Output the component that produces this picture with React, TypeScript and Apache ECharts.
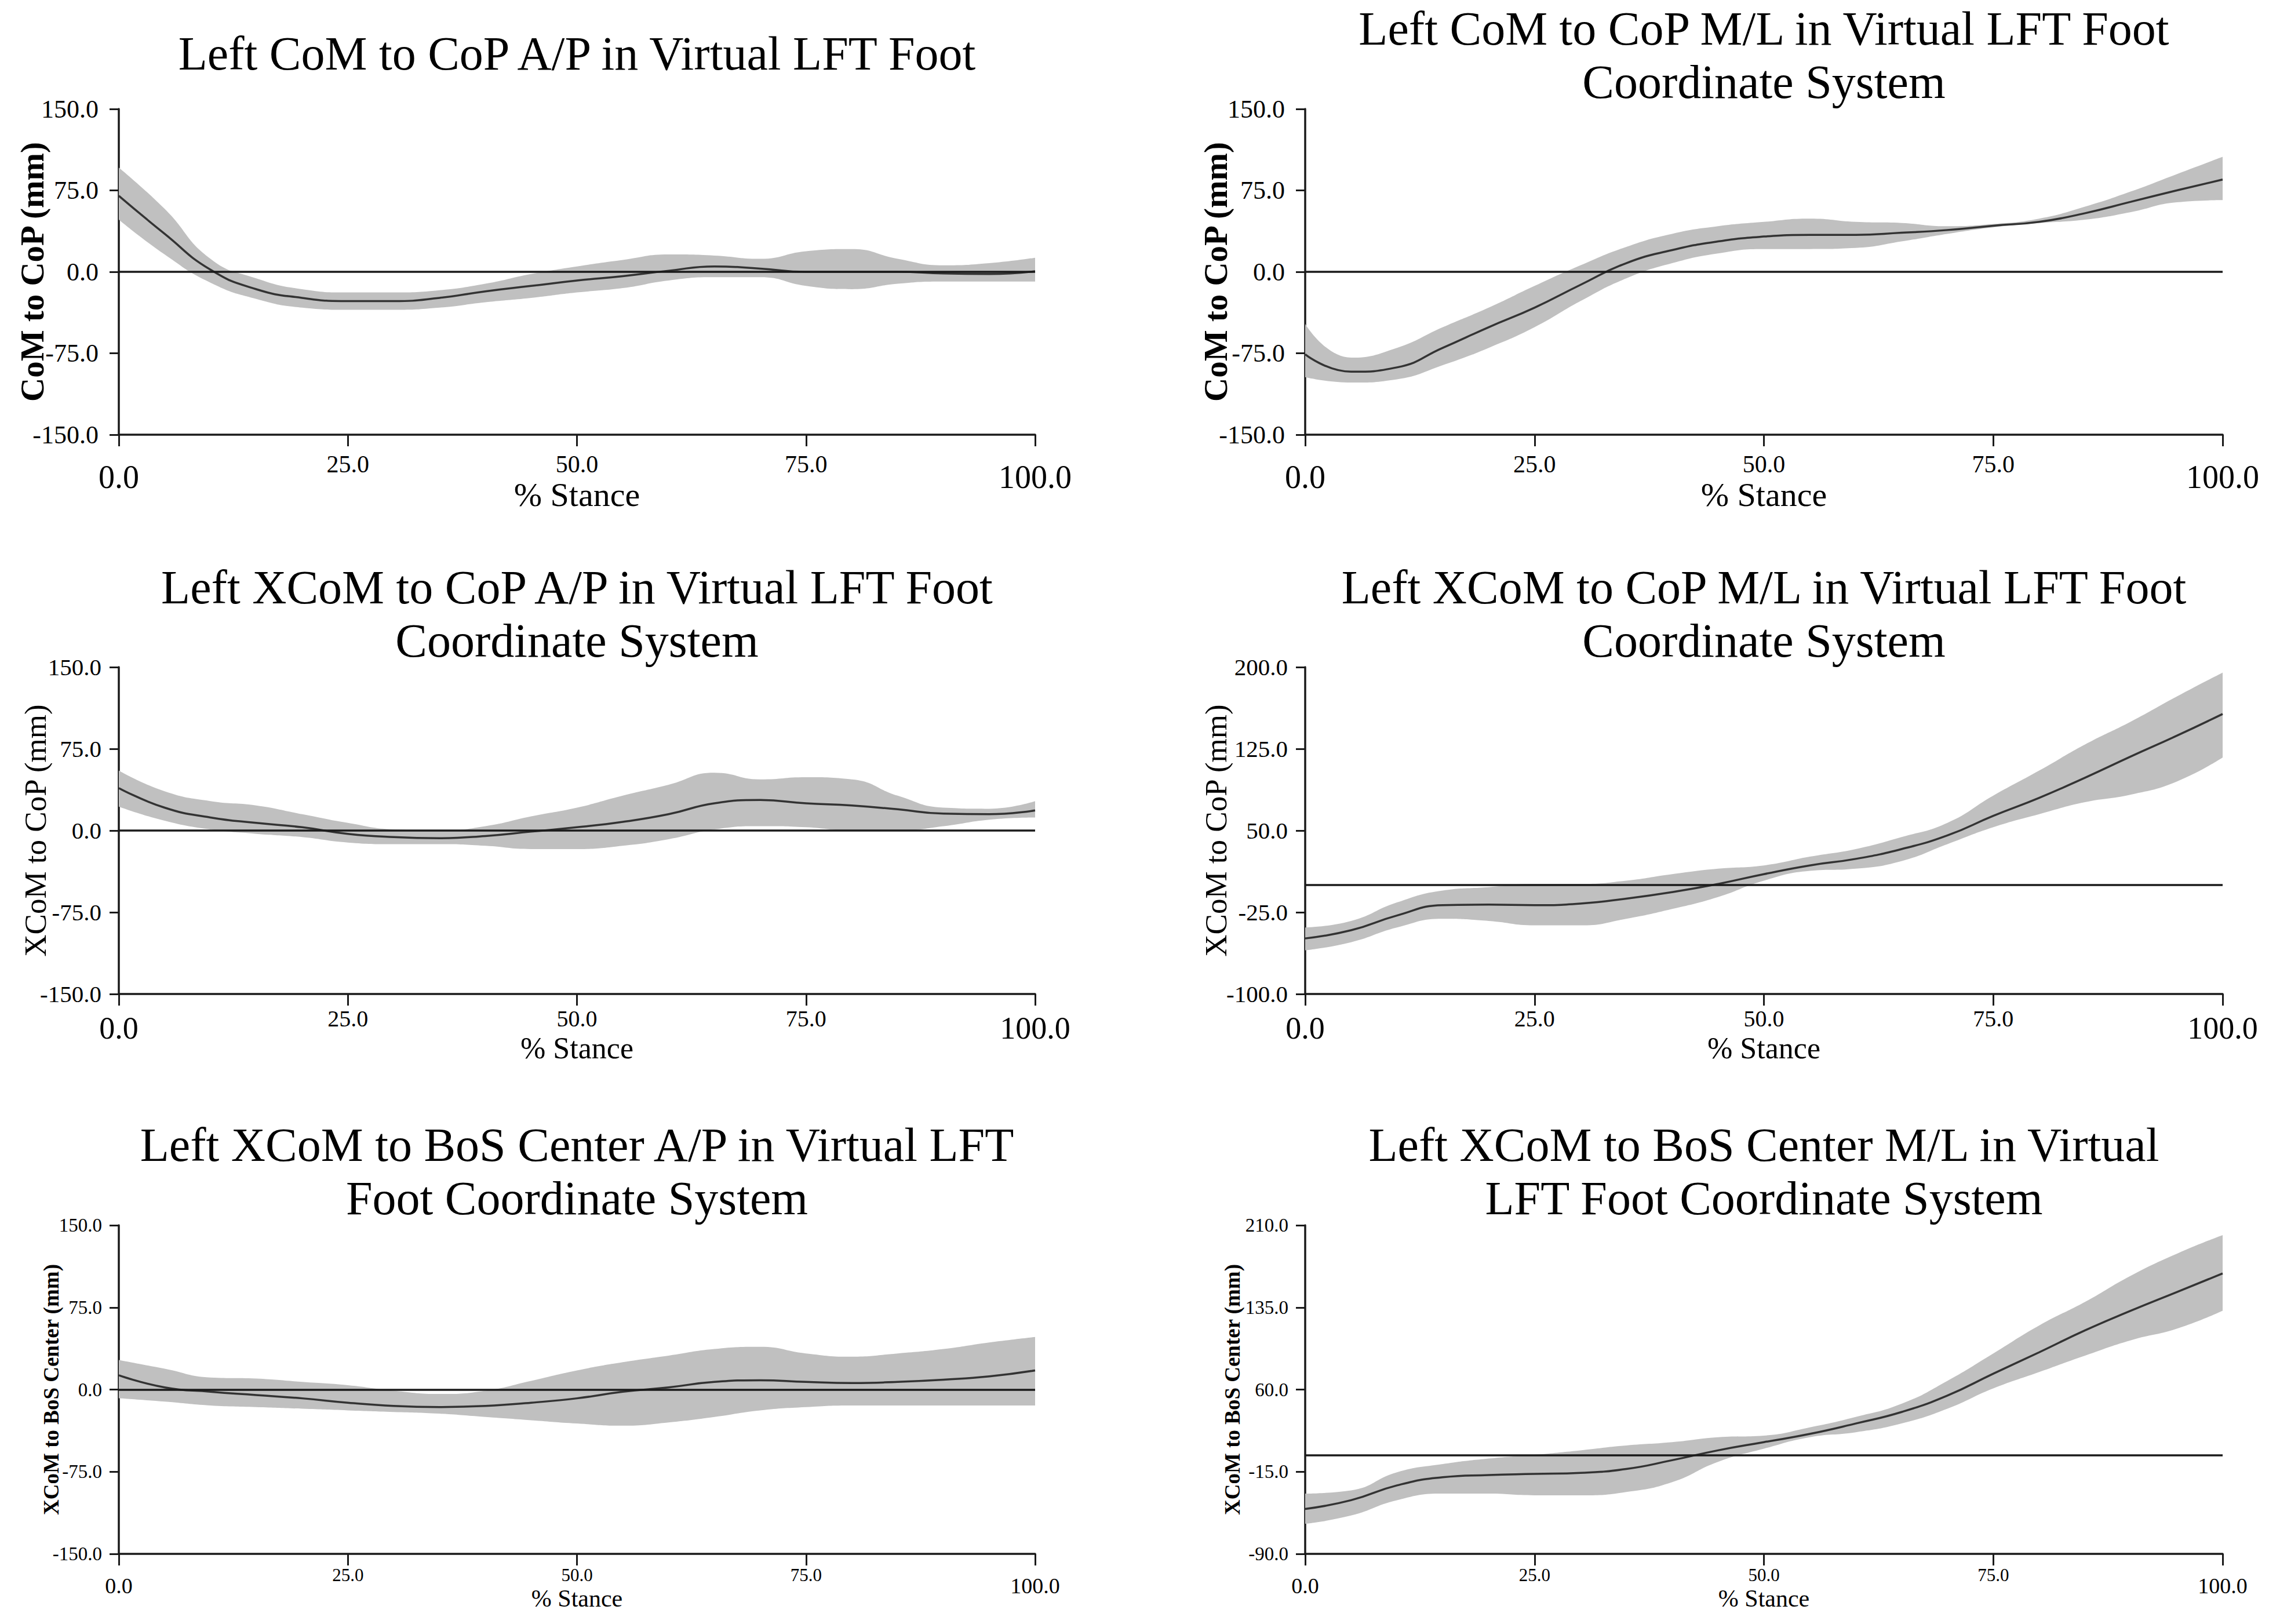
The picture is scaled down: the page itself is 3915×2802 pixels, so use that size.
import { useEffect, useRef } from 'react';
import * as echarts from 'echarts';

// % stance sample points (every 5%)
const STANCE_PCT = [0, 5, 10, 15, 20, 25, 30, 35, 40, 45, 50, 55, 60, 65, 70, 75, 80, 85, 90, 95, 100];

// CoM to CoP A/P
const comCopApMean = [70, 35, 2, -16, -24, -27, -27, -24, -18, -13, -8, -4, 1, 5, 3, 0, 0, 0, -1.5, -2, 0.5];
const comCopApUpper = [96, 58, 12, -6, -16, -19, -19, -17, -11, -2, 5, 11, 16, 15, 12, 19, 21, 12, 6, 8, 13];
const comCopApLower = [48, 16, -10, -25, -33, -35, -35, -33, -28, -24, -19, -15, -8, -5, -5, -13, -16, -11, -9, -9, -9];

// CoM to CoP M/L
const comCopMlMean = [-76, -92, -88, -70, -51, -33, -12, 8, 20, 28, 32.5, 34, 34, 36, 38.5, 42.5, 46, 54, 64.5, 75, 85];
const comCopMlUpper = [-48, -79, -70, -51, -33, -13, 6, 23, 35, 42, 46, 49, 46, 45, 42, 44, 49, 60, 74, 90, 106];
const comCopMlLower = [-97, -102, -99, -86, -70, -51, -27, -6, 8, 17, 21, 21, 22, 28, 35, 41, 45, 48, 55, 64, 66];

// XCoM to CoP A/P
const xcomCopApMean = [39, 21, 12, 7, 3, -3, -6, -7, -5, -1, 3, 8, 15, 25, 28, 25, 23, 19.5, 15.5, 15, 18.5];
const xcomCopApUpper = [55, 36, 27, 23, 15, 7, 1, 0, 4, 13, 21, 32, 42, 53, 47, 49, 47, 32, 21, 20, 27];
const xcomCopApLower = [22, 9, 1, -3, -6, -11, -12.5, -12.5, -14, -17, -17, -14, -8, 1, 4, 3, 0, 0, 4, 10, 12];

// XCoM to CoP M/L
const xcomCopMlMean = [-49, -41.5, -28, -18.5, -18, -18.5, -17, -12.5, -6.5, 1, 10, 18, 24, 33, 45.5, 63.5, 80, 98.5, 118, 137, 157];
const xcomCopMlUpper = [-39, -33, -16, -5, -2, 1, 1, 4, 10, 15, 18, 26, 33, 44, 57, 82, 105, 129, 150, 173, 195];
const xcomCopMlLower = [-60, -52.5, -39, -31, -33, -37, -37, -31, -22, -11, 4, 13, 15, 22, 37.5, 53, 65, 76, 83, 95, 117];

// XCoM to BoS center A/P
const xcomBosApMean = [13, 2, -2, -5, -8, -12, -15, -16, -15, -12, -8, -2, 2, 7, 8.5, 7, 6, 7, 9, 12, 17.5];
const xcomBosApUpper = [27, 19, 11, 10, 7, 4, -1, -4, -1, 8, 17.5, 25, 31, 37, 39, 33, 30, 33, 37, 43, 48];
const xcomBosApLower = [-8, -11, -14.5, -16, -17.5, -19, -20.5, -22, -25, -28, -31, -33, -30, -25, -19, -16, -14.5, -14.5, -14.5, -14.5, -14.5];

// XCoM to BoS center M/L
const xcomBosMlMean = [-49, -41, -27.5, -20, -18, -17, -16, -12.5, -4.5, 4.5, 12, 19.5, 29, 39.5, 54.5, 74.5, 94, 114, 132, 149, 166];
const xcomBosMlUpper = [-35, -32, -15.5, -8, -3, 0.5, 4.5, 9, 12, 16.5, 18, 25.5, 35, 47, 68, 93, 118.5, 140, 164, 184, 201];
const xcomBosMlLower = [-62.5, -55, -41, -35, -35, -36.5, -36.5, -33.5, -24.5, -6, 6, 16.5, 21, 29, 42.5, 61, 76, 91, 105, 115.5, 132];

const TITLES = [
  'Left CoM to CoP A/P in Virtual LFT Foot',
  'Left CoM to CoP M/L in Virtual LFT Foot\nCoordinate System',
  'Left XCoM to CoP A/P in Virtual LFT Foot\nCoordinate System',
  'Left XCoM to CoP M/L in Virtual LFT Foot\nCoordinate System',
  'Left XCoM to BoS Center A/P in Virtual LFT\nFoot Coordinate System',
  'Left XCoM to BoS Center M/L in Virtual\nLFT Foot Coordinate System',
];
const Y_NAMES = [
  'CoM to CoP (mm)',
  'CoM to CoP (mm)',
  'XCoM to CoP (mm)',
  'XCoM to CoP (mm)',
  'XCoM to BoS Center (mm)',
  'XCoM to BoS Center (mm)',
];
const Y_TICKS = [
  [-150, -75, 0, 75, 150],
  [-150, -75, 0, 75, 150],
  [-150, -75, 0, 75, 150],
  [-100, -25, 50, 125, 200],
  [-150, -75, 0, 75, 150],
  [-90, -15, 60, 135, 210],
];
const X_NAME = '% Stance';

const MEANS = [comCopApMean, comCopMlMean, xcomCopApMean, xcomCopMlMean, xcomBosApMean, xcomBosMlMean];
const UPPERS = [comCopApUpper, comCopMlUpper, xcomCopApUpper, xcomCopMlUpper, xcomBosApUpper, xcomBosMlUpper];
const LOWERS = [comCopApLower, comCopMlLower, xcomCopApLower, xcomCopMlLower, xcomBosApLower, xcomBosMlLower];

const FONT = '"Liberation Serif", "Times New Roman", serif';
const INK = '#1a1a1a';
const BAND = '#c0c0c0';

// layout (px)
const COL_X = [
  [205, 1786],
  [2252, 3835],
];
const ROW_Y = [
  [188, 750],
  [1151, 1715],
  [2114, 2681],
];
const TITLE_TOP = [46, 3, 967, 967, 1929, 1929];

const ROW_STYLE = [
  { yTick: 44, yMargin: 35, xMid: 42, xEnd: 56, xMargin: 30, xEndPad: 15, xName: 58, xNameGap: 74 },
  { yTick: 41, yMargin: 30, xMid: 40, xEnd: 54, xMargin: 22, xEndPad: 10, xName: 52, xNameGap: 67 },
  { yTick: 33, yMargin: 29, xMid: 31, xEnd: 38, xMargin: 21, xEndPad: 15, xName: 42, xNameGap: 56 },
];
const Y_NAME_STYLE = [
  { size: 57, weight: 'bold', gap: 121 },
  { size: 57, weight: 'bold', gap: 126 },
  { size: 53, weight: 'normal', gap: 118 },
  { size: 53, weight: 'normal', gap: 128 },
  { size: 37, weight: 'bold', gap: 98 },
  { size: 37, weight: 'bold', gap: 107 },
];

export default function App() {
  const ref = useRef<HTMLDivElement>(null);

  useEffect(() => {
    if (!ref.current) return;
    const chart = echarts.init(ref.current, undefined, { renderer: 'svg' });

    const grid: any[] = [];
    const xAxis: any[] = [];
    const yAxis: any[] = [];
    const series: any[] = [];
    const title: any[] = [];

    MEANS.forEach((mean, i) => {
      const row = Math.floor(i / 2);
      const col = i % 2;
      const [x0, x1] = COL_X[col];
      const [y0, y1] = ROW_Y[row];
      const rs = ROW_STYLE[row];
      const yn = Y_NAME_STYLE[i];
      const ticks = Y_TICKS[i];
      const upper = UPPERS[i];
      const lower = LOWERS[i];
      const everyFifth = (idx: number) => idx % 5 === 0;

      title.push({
        text: TITLES[i],
        left: (x0 + x1) / 2,
        top: TITLE_TOP[i],
        textAlign: 'center',
        padding: 0,
        textStyle: { fontFamily: FONT, fontSize: 82, fontWeight: 'normal', color: '#000', lineHeight: 92 },
      });

      grid.push({ left: x0, top: y0, width: x1 - x0, height: y1 - y0, containLabel: false, outerBoundsMode: 'none' });

      xAxis.push({
        type: 'category',
        gridIndex: i,
        data: STANCE_PCT,
        boundaryGap: false,
        axisLine: { show: true, onZero: false, lineStyle: { color: INK, width: 3.5 } },
        axisTick: { show: true, interval: everyFifth, length: 20, lineStyle: { color: INK, width: 3 } },
        axisLabel: {
          interval: everyFifth,
          margin: rs.xMargin,
          color: '#000',
          fontFamily: FONT,
          fontSize: rs.xMid,
          formatter: (v: string, idx: number) => {
            const s = Number(v).toFixed(1);
            return idx === 0 || idx === STANCE_PCT.length - 1 ? `{end|${s}}` : `{mid|${s}}`;
          },
          rich: {
            mid: { fontFamily: FONT, fontSize: rs.xMid, color: '#000' },
            end: { fontFamily: FONT, fontSize: rs.xEnd, color: '#000', padding: [rs.xEndPad, 0, 0, 0] },
          },
        },
        splitLine: { show: false },
        name: X_NAME,
        nameLocation: 'middle',
        nameGap: rs.xNameGap,
        nameMoveOverlap: false,
        nameTextStyle: { fontFamily: FONT, fontSize: rs.xName, color: '#000' },
      });

      yAxis.push({
        type: 'value',
        gridIndex: i,
        min: ticks[0],
        max: ticks[ticks.length - 1],
        axisLine: { show: true, onZero: false, lineStyle: { color: INK, width: 3.5 } },
        axisTick: { show: true, length: 16, customValues: ticks, lineStyle: { color: INK, width: 3 } },
        axisLabel: {
          customValues: ticks,
          margin: rs.yMargin,
          color: '#000',
          fontFamily: FONT,
          fontSize: rs.yTick,
          formatter: (v: number) => v.toFixed(1),
        },
        splitLine: { show: false },
        name: Y_NAMES[i],
        nameLocation: 'middle',
        nameGap: yn.gap,
        nameMoveOverlap: false,
        nameTextStyle: { fontFamily: FONT, fontSize: yn.size, fontWeight: yn.weight, color: '#000' },
      });

      const stack = `band${i}`;
      series.push(
        {
          type: 'line',
          xAxisIndex: i,
          yAxisIndex: i,
          data: lower,
          stack,
          stackStrategy: 'all',
          smooth: true,
          symbol: 'none',
          silent: true,
          lineStyle: { opacity: 0 },
        },
        {
          type: 'line',
          xAxisIndex: i,
          yAxisIndex: i,
          data: upper.map((u, k) => u - lower[k]),
          stack,
          stackStrategy: 'all',
          smooth: true,
          symbol: 'none',
          silent: true,
          lineStyle: { opacity: 0 },
          areaStyle: { color: BAND, opacity: 1 },
        },
        {
          type: 'line',
          xAxisIndex: i,
          yAxisIndex: i,
          data: mean,
          smooth: true,
          symbol: 'none',
          silent: true,
          lineStyle: { color: '#333', width: 3.5 },
          markLine: {
            silent: true,
            symbol: ['none', 'none'],
            label: { show: false },
            lineStyle: { color: INK, width: 3.5, type: 'solid' },
            data: [{ yAxis: 0 }],
          },
        }
      );
    });

    chart.setOption({
      animation: false,
      backgroundColor: '#fff',
      textStyle: { fontFamily: FONT },
      title,
      grid,
      xAxis,
      yAxis,
      series,
    });

    return () => {
      chart.dispose();
    };
  }, []);

  return (
    <div
      ref={ref}
      style={{ position: 'absolute', left: 0, top: 0, width: 3915, height: 2802, background: '#fff' }}
    />
  );
}
